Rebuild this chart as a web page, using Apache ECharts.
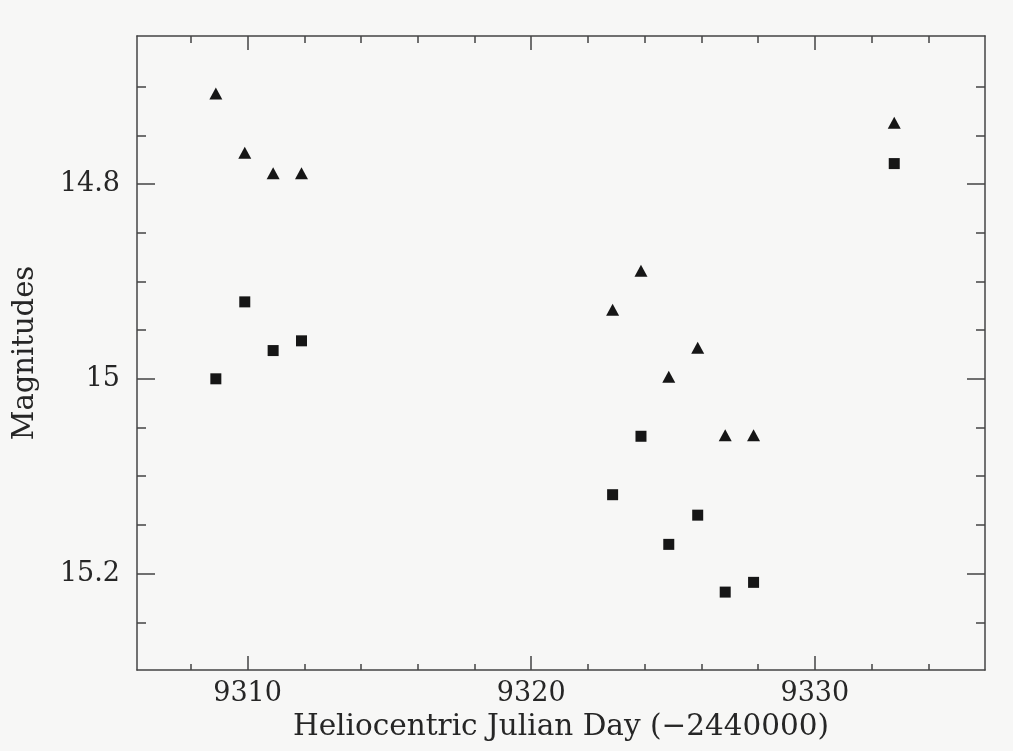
<!DOCTYPE html>
<html>
<head>
<meta charset="utf-8">
<script src="https://cdn.jsdelivr.net/npm/echarts@6/dist/echarts.min.js"></script>
<style>
  html, body { margin: 0; padding: 0; background: #f7f7f6; }
  #chart { width: 1013px; height: 751px; }
</style>
</head>
<body>
<div id="chart"></div>
<script>
// Data (HJD - 2440000, magnitudes)
const triangleDays = [9308.88, 9309.9, 9310.9, 9311.9, 9322.87, 9323.87, 9324.85, 9325.87, 9326.84, 9327.84, 9332.8];
const triangleMags = [14.707, 14.768, 14.789, 14.789, 14.929, 14.889, 14.998, 14.968, 15.058, 15.058, 14.737];
const squareDays = [9308.88, 9309.9, 9310.9, 9311.9, 9322.87, 9323.87, 9324.85, 9325.87, 9326.84, 9327.84, 9332.8];
const squareMags = [15.0, 14.921, 14.971, 14.961, 15.119, 15.059, 15.170, 15.140, 15.219, 15.209, 14.779];

// Tick labels
const xMajorTicks = [9310, 9320, 9330];
const xMinorTicks = [9308, 9310, 9312, 9314, 9316, 9318, 9320, 9322, 9324, 9326, 9328, 9330, 9332, 9334];
const yMajorTicks = [14.8, 15, 15.2];
const yMinorTicks = [14.7, 14.75, 14.8, 14.85, 14.9, 14.95, 15.0, 15.05, 15.1, 15.15, 15.2, 15.25];

const ink = '#262626';
const lineCol = '#444444';
const font = 'DejaVu Serif';

const xMin = 9306.1, xMax = 9336.0;
const yMin = 14.648, yMax = 15.299;

function xAxisDef(pos, ticks, len, showLabel, showLine, name) {
  return {
    type: 'value', position: pos, min: xMin, max: xMax,
    axisLine: { show: showLine, lineStyle: { color: lineCol, width: 1.5 } },
    axisTick: { show: true, inside: true, length: len, customValues: ticks, lineStyle: { color: lineCol, width: 1.5 } },
    axisLabel: showLabel ? { show: true, customValues: ticks, color: ink, fontFamily: font, fontSize: 27, margin: 10, formatter: v => String(v) } : { show: false },
    splitLine: { show: false },
    name: name || '',
    nameLocation: 'middle',
    nameGap: 36,
    nameTextStyle: { color: ink, fontFamily: font, fontSize: 29.5 }
  };
}
function yAxisDef(pos, ticks, len, showLabel, showLine, name) {
  return {
    type: 'value', position: pos, min: yMin, max: yMax, inverse: true,
    axisLine: { show: showLine, lineStyle: { color: lineCol, width: 1.5 } },
    axisTick: { show: true, inside: true, length: len, customValues: ticks, lineStyle: { color: lineCol, width: 1.5 } },
    axisLabel: showLabel ? { show: true, customValues: ticks, color: ink, fontFamily: font, fontSize: 27, margin: 17, formatter: v => String(v) } : { show: false },
    splitLine: { show: false },
    name: name || '',
    nameLocation: 'middle',
    nameGap: 97,
    nameTextStyle: { color: ink, fontFamily: font, fontSize: 29 }
  };
}

const chart = echarts.init(document.getElementById('chart'), null, { renderer: 'canvas' });
chart.setOption({
  backgroundColor: '#f7f7f6',
  animation: false,
  grid: { left: 137, right: 28, top: 36, bottom: 81, containLabel: false },
  xAxis: [
    xAxisDef('bottom', xMinorTicks, 6, false, true),
    xAxisDef('bottom', xMajorTicks, 14, true, false, 'Heliocentric Julian Day (\u22122440000)'),
    xAxisDef('top', xMinorTicks, 7, false, true),
    xAxisDef('top', xMajorTicks, 14, false, false)
  ],
  yAxis: [
    yAxisDef('left', yMinorTicks, 9, false, true),
    yAxisDef('left', yMajorTicks, 18, true, false, 'Magnitudes'),
    yAxisDef('right', yMinorTicks, 9, false, true),
    yAxisDef('right', yMajorTicks, 18, false, false)
  ],
  series: [
    {
      type: 'scatter', name: 'triangles', xAxisIndex: 0, yAxisIndex: 0,
      symbol: 'triangle', symbolSize: [13, 12],
      itemStyle: { color: '#161616', opacity: 1 },
      data: triangleDays.map((d, i) => [d, triangleMags[i]])
    },
    {
      type: 'scatter', name: 'squares', xAxisIndex: 0, yAxisIndex: 0,
      symbol: 'rect', symbolSize: 11,
      itemStyle: { color: '#161616', opacity: 1 },
      data: squareDays.map((d, i) => [d, squareMags[i]])
    }
  ]
});
</script>
</body>
</html>
